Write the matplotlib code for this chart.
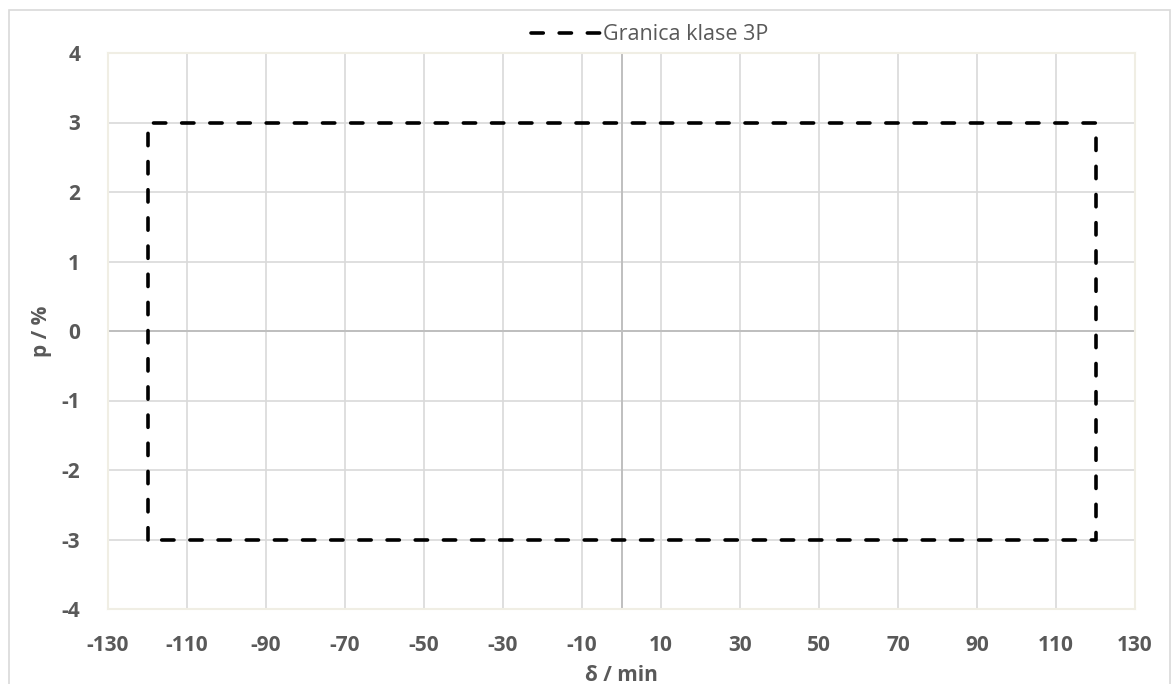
import matplotlib
matplotlib.use("Agg")
import matplotlib.pyplot as plt
from matplotlib.patches import Rectangle

# Data
boundary_x = [-120, -120, 120, 120, -120]
boundary_y = [-3, 3, 3, -3, -3]
series_label = "Granica klase 3P"
x_ticks = [-130, -110, -90, -70, -50, -30, -10, 10, 30, 50, 70, 90, 110, 130]
y_ticks = [-4, -3, -2, -1, 0, 1, 2, 3, 4]
x_label = "δ / min"
y_label = "p / %"

plt.rcParams['font.family'] = ['Open Sans', 'DejaVu Sans']
plt.rcParams['axes.unicode_minus'] = False
txt = '#595959'

fig = plt.figure(figsize=(11.71, 6.84), dpi=100)
ax = fig.add_axes([108/1171, 1-609/684, (1135-108)/1171, (609-53)/684])

ax.set_xlim(-130, 130)
ax.set_ylim(-4, 4)
ax.set_xticks(x_ticks)
ax.set_yticks(y_ticks)
ax.grid(True, color='#d9d9d9', linewidth=1.2)
ax.set_axisbelow(True)
ax.axhline(0, color='#bfbfbf', linewidth=1.4, zorder=1)
ax.axvline(0, color='#bfbfbf', linewidth=1.4, zorder=1)

line, = ax.plot(boundary_x, boundary_y, color='black', linewidth=2.6,
                dashes=(3.4, 4.4), dash_capstyle='round', label=series_label, zorder=3)

for s in ax.spines.values():
    s.set_color('#f0eee4')
    s.set_linewidth(1.5)
ax.tick_params(axis='x', length=0, pad=19, labelsize=15, labelcolor=txt)
ax.tick_params(axis='y', length=0, pad=20, labelsize=15, labelcolor=txt)
for lbl in ax.get_xticklabels() + ax.get_yticklabels():
    lbl.set_fontweight('bold')

ax.set_xlabel(x_label, fontsize=15, fontweight='bold', color=txt, labelpad=6)
ax.set_ylabel(y_label, fontsize=15, fontweight='bold', color=txt, labelpad=7)

leg = fig.legend(handles=[line], loc='center', bbox_to_anchor=(0.555, 1-35/684),
                 frameon=False, fontsize=15.5, handlelength=3.2, handletextpad=0.15,
                 labelcolor=txt)

fig.patches.append(Rectangle((9/1171, -0.01), 1-9/1171-0.001, 1-10/684+0.01,
                             transform=fig.transFigure, fill=False,
                             edgecolor='#d9d9d9', linewidth=1.2))

fig.savefig('out.png', dpi=100, facecolor='white')
